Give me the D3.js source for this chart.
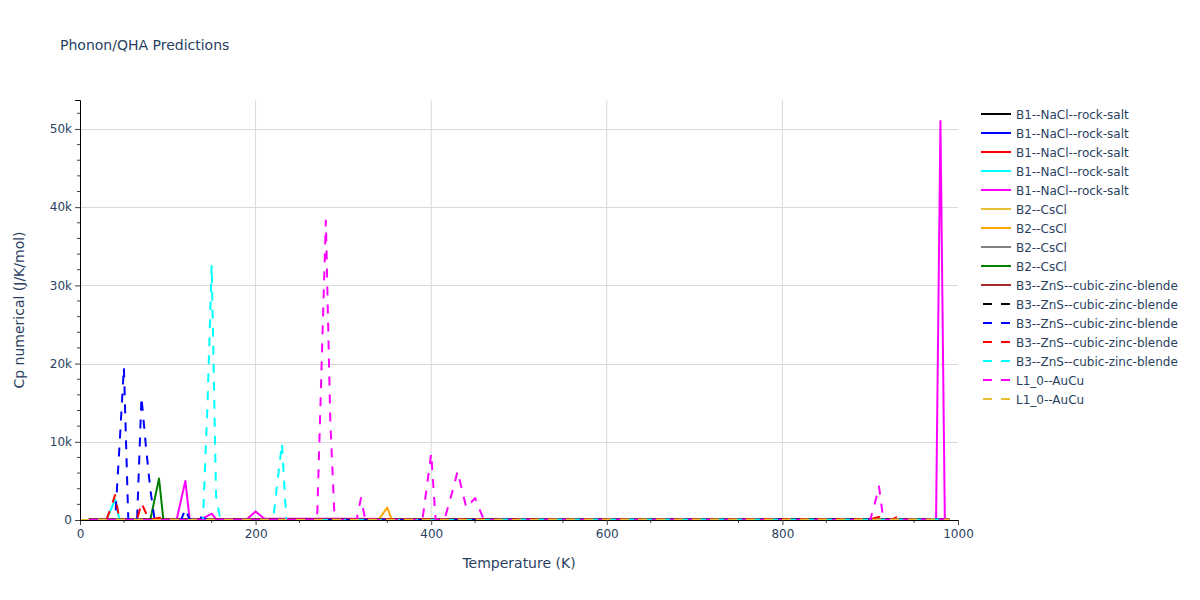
<!DOCTYPE html>
<html>
<head>
<meta charset="utf-8">
<script src="https://cdn.jsdelivr.net/npm/d3@7"></script>
<style>
  body { margin: 0; background: #fff; }
  svg { font-family: "DejaVu Sans", Verdana, sans-serif; }
</style>
</head>
<body>
<svg width="1200" height="600"></svg>
<script>
// Data: [temperature K, Cp J/K/mol]
const b1Black = [[10, 40], [990, 50]];
const b1Blue = [[10, 40], [990, 50]];
const b1Red = [[10, 40], [990, 50]];
const b1Cyan = [[10, 0], [30, 0], [40, 2600], [45, 0], [990, 50]];
const b1Magenta = [[10, 0], [110, 0], [120, 5000], [125, 0], [140, 200], [150, 800], [155, 100],
  [190, 100], [200, 1100], [210, 150], [300, 150], [400, 100], [970, 100], [975, 0],
  [980, 51000], [985, 0], [990, 50]];
const b2Yellow = [[0, 0], [990, 30]];
const b2Orange = [[0, 0], [340, 20], [350, 1600], [355, 20], [990, 30]];
const b2Gray = [[10, 30], [990, 40]];
const b2Green = [[10, 0], [80, 0], [90, 5300], [95, 0], [990, 40]];
const b3Brown = [[10, 50], [990, 60]];
const b3BlackDash = [[10, 40], [990, 50]];
const b3BlueDash = [[10, 0], [40, 0], [45, 9500], [50, 19500], [55, 0], [65, 0], [70, 15700],
  [75, 9500], [80, 4000], [85, 0], [115, 0], [120, 1400], [125, 0], [130, 400], [140, 300],
  [145, 0], [990, 40]];
const b3RedDash = [[10, 0], [30, 0], [35, 1500], [40, 3200], [45, 0], [65, 0], [70, 2200],
  [75, 900], [80, 0], [90, 300], [100, 200], [105, 0], [900, 100], [910, 400], [915, 50],
  [925, 60], [930, 350], [935, 50], [990, 40]];
const b3CyanDash = [[10, 0], [140, 0], [145, 14000], [150, 32600], [155, 3000], [160, 0],
  [220, 0], [225, 5000], [230, 9800], [235, 0], [990, 50]];
const l10MagentaDash = [[10, 0], [270, 0], [275, 19000], [280, 38300], [285, 13000], [290, 0],
  [315, 0], [320, 2800], [325, 0], [390, 0], [400, 8500], [405, 0], [415, 0], [420, 2000],
  [425, 4000], [430, 6200], [440, 1600], [450, 2800], [460, 0], [900, 0], [905, 2000],
  [910, 4300], [915, 0], [990, 50]];
const l10YellowDash = [[0, 0], [990, 30]];

const xTicks = [0, 200, 400, 600, 800, 1000];
const yTicks = [0, 10000, 20000, 30000, 40000, 50000];

// Series list (in drawing order, same as the legend)
const series = [
  { name: "B1--NaCl--rock-salt", color: "black", dash: false, data: b1Black },
  { name: "B1--NaCl--rock-salt", color: "blue", dash: false, data: b1Blue },
  { name: "B1--NaCl--rock-salt", color: "red", dash: false, data: b1Red },
  { name: "B1--NaCl--rock-salt", color: "cyan", dash: false, data: b1Cyan },
  { name: "B1--NaCl--rock-salt", color: "magenta", dash: false, data: b1Magenta },
  { name: "B2--CsCl", color: "#e6c030", dash: false, data: b2Yellow },
  { name: "B2--CsCl", color: "orange", dash: false, data: b2Orange },
  { name: "B2--CsCl", color: "gray", dash: false, data: b2Gray },
  { name: "B2--CsCl", color: "green", dash: false, data: b2Green },
  { name: "B3--ZnS--cubic-zinc-blende", color: "brown", dash: false, data: b3Brown },
  { name: "B3--ZnS--cubic-zinc-blende", color: "black", dash: true, data: b3BlackDash },
  { name: "B3--ZnS--cubic-zinc-blende", color: "blue", dash: true, data: b3BlueDash },
  { name: "B3--ZnS--cubic-zinc-blende", color: "red", dash: true, data: b3RedDash },
  { name: "B3--ZnS--cubic-zinc-blende", color: "cyan", dash: true, data: b3CyanDash },
  { name: "L1_0--AuCu", color: "magenta", dash: true, data: l10MagentaDash },
  { name: "L1_0--AuCu", color: "#e6c030", dash: true, data: l10YellowDash },
];

/*----------- Dimensions ----------- */
const margin = { top: 100, right: 242, bottom: 80, left: 80 };
const width = 1200 - margin.left - margin.right;
const height = 600 - margin.top - margin.bottom;
const textColor = "#2a3f5f";

const svg = d3.select("svg");

svg.append("text")
  .attr("x", 60).attr("y", 50)
  .attr("font-size", 14).attr("fill", textColor)
  .text("Phonon/QHA Predictions");

const chart = svg.append("g")
  .attr("transform", "translate(" + margin.left + "," + margin.top + ")");

/*----------- Scales -----------*/
const x = d3.scaleLinear().domain([0, 1000]).range([0, width]);
const y = d3.scaleLinear().domain([0, 53700]).range([height, 0]);

// grid
chart.append("g").selectAll("line")
  .data(xTicks.filter((t) => t > 0 && t < 1000)).enter().append("line")
  .attr("x1", (d) => x(d)).attr("x2", (d) => x(d))
  .attr("y1", 0).attr("y2", height)
  .attr("stroke", "#d9d9d9").attr("stroke-width", 1);
chart.append("g").selectAll("line")
  .data(yTicks.filter((t) => t > 0)).enter().append("line")
  .attr("x1", 0).attr("x2", width)
  .attr("y1", (d) => Math.round(y(d)) + 0.5).attr("y2", (d) => Math.round(y(d)) + 0.5)
  .attr("stroke", "#d9d9d9").attr("stroke-width", 1);

// lines
svg.append("clipPath").attr("id", "plotclip")
  .append("rect").attr("width", width).attr("height", height);

const line = d3.line().x((d) => x(d[0])).y((d) => y(d[1]));

chart.append("g").attr("clip-path", "url(#plotclip)")
  .selectAll("path").data(series).enter().append("path")
  .attr("fill", "none")
  .attr("stroke", (d) => d.color)
  .attr("stroke-width", 2)
  .attr("stroke-linejoin", "round")
  .attr("stroke-dasharray", (d) => (d.dash ? "9,9" : null))
  .attr("d", (d) => line(d.data));

/*----------- Axes -----------*/
const xAxis = d3.axisBottom(x).tickValues(xTicks).tickSize(5).tickPadding(4)
  .tickFormat(d3.format("d"));
const yAxis = d3.axisLeft(y).tickValues(yTicks).tickSize(5).tickPadding(3)
  .tickFormat((d) => (d === 0 ? "0" : d / 1000 + "k"));

// minor ticks
chart.append("g").selectAll("line")
  .data(d3.range(50, 1000, 100)).enter().append("line")
  .attr("x1", (d) => x(d)).attr("x2", (d) => x(d))
  .attr("y1", height).attr("y2", height + 3)
  .attr("stroke", "#444");
chart.append("g").selectAll("line")
  .data(d3.range(2000, 53700, 2000).filter((v) => v % 10000 !== 0)).enter().append("line")
  .attr("x1", -3).attr("x2", 0)
  .attr("y1", (d) => y(d)).attr("y2", (d) => y(d))
  .attr("stroke", "#444");

const gx = chart.append("g")
  .attr("transform", "translate(0," + height + ")")
  .call(xAxis);
const gy = chart.append("g").call(yAxis);

[gx, gy].forEach((g) => {
  g.select(".domain").attr("stroke", "black").attr("stroke-width", 1);
  g.selectAll(".tick line").attr("stroke", "#444");
  g.selectAll(".tick text")
    .attr("fill", textColor).attr("font-size", 12)
    .attr("font-family", "\"DejaVu Sans\", Verdana, sans-serif");
});

// axis titles
chart.append("text")
  .attr("x", width / 2).attr("y", height + 48)
  .attr("text-anchor", "middle").attr("font-size", 14).attr("fill", textColor)
  .text("Temperature (K)");
chart.append("text")
  .attr("transform", "translate(" + -56 + "," + height / 2 + ") rotate(-90)")
  .attr("text-anchor", "middle").attr("font-size", 14).attr("fill", textColor)
  .text("Cp numerical (J/K/mol)");

/*----------- Legend -----------*/
const legend = svg.append("g").attr("transform", "translate(981,114)");
const item = legend.selectAll("g").data(series).enter().append("g")
  .attr("transform", (d, i) => "translate(0," + i * 19 + ")");
item.append("line")
  .attr("x1", 0).attr("x2", 30).attr("y1", 0).attr("y2", 0)
  .attr("stroke", (d) => d.color).attr("stroke-width", 2)
  .attr("stroke-dasharray", (d) => (d.dash ? "9,9" : null))
  .attr("stroke-dashoffset", (d) => (d.dash ? -2 : null));
item.append("text")
  .attr("x", 35).attr("y", 4.5)
  .attr("font-size", 12).attr("fill", textColor)
  .text((d) => d.name);
</script>
</body>
</html>
